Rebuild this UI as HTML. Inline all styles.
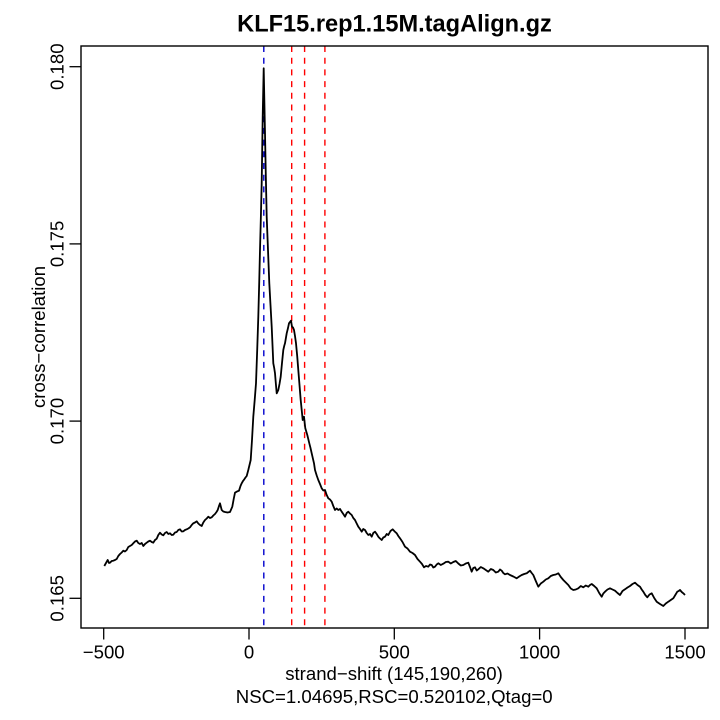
<!DOCTYPE html>
<html>
<head>
<meta charset="utf-8">
<style>
  html, body { margin: 0; padding: 0; background: #ffffff; }
  svg { display: block; }
  text { font-family: "Liberation Sans", Arial, sans-serif; fill: #000; }
</style>
</head>
<body>
<svg width="720" height="720" viewBox="0 0 720 720" xmlns="http://www.w3.org/2000/svg">
  <rect x="0" y="0" width="720" height="720" fill="#ffffff"/>

  <!-- Title -->
  <text x="394.5" y="31.7" font-size="23.6" font-weight="bold" text-anchor="middle">KLF15.rep1.15M.tagAlign.gz</text>

  <!-- vertical dashed lines -->
  <g stroke-width="1.4" stroke-dasharray="6 5.7" fill="none">
    <line x1="263.8" y1="46" x2="263.8" y2="628" stroke="#0000cc"/>
    <line x1="291.7" y1="46" x2="291.7" y2="628" stroke="#ff0000"/>
    <line x1="304.6" y1="46" x2="304.6" y2="628" stroke="#ff0000"/>
    <line x1="324.9" y1="46" x2="324.9" y2="628" stroke="#ff0000"/>
  </g>

  <!-- data curve -->
  <polyline fill="none" stroke="#000" stroke-width="1.8" stroke-linejoin="round" points="
    104.3,566 106,563 107.7,560 109,563 110,562.7 111.7,561 113.3,560.7 115,560 116.7,559 118.3,556 120,554 121.7,552.5 123.3,550.7 125,551.5
    126.7,550 128.3,547 130,546 131.7,545 133.3,543.3 135,541.5 136.7,540.7 138.3,543 140,544 141.7,543 143.3,546 145,544
    146.7,542.7 148.3,541.5 150,540.7 151.7,542 153.3,542.7 155,540 156.7,538.7 158.3,535 160,532.7 161.7,534.5 163.3,535.3 165,533
    166.7,532 168.3,534 170,533.3 171.7,535 173.3,534.7 175,532.5 176.7,532 178.3,530 180,529.3 181.7,531.5 183.3,531.3 185,530
    186.7,529.3 188.3,528.5 190,527.3 191.7,525 193.3,523.3 195,522.5 196.7,521.3 198.3,523.5 200,525 201.7,526 203.3,522.5
    205,520 206.7,518.5 208.3,516.7 210,518 211.7,517.3 213.3,515.5 215,514 216.5,512 217.7,510 219,506 220,503.3 221.7,510
    223.3,511.5 225,512 227.5,512.5 230,512 232.3,506.7 233.7,499 235,492.7 237,491.5 239,490.7 240.5,486 241.7,483.3 243,481
    244.3,479.3 245.5,477.5 246.7,476 248.3,470
    250.7,460 252,440 253.3,416.7 254.7,400 256,383.3 257.2,350 258.3,316.7 259.2,283 260,250 260.9,216 261.7,183 262.7,116.7 263.7,68.3
    265,133.3 265.8,175 266.7,216.7 268,250 269.3,283.3 270.5,305 271.7,326.7 272.5,345 273.3,363.3 274.2,368 275,373.3 275.8,383 276.7,393.3
    278.3,390 279.5,384 280.7,376.7 282,363 283.3,350 284.2,346 285,343.3 286.7,333.3 288,328 289,323.3 291,320.7 292,326.7 293,327.5 294,330
    295,336 296,343.3 297.2,356 298.3,370 299.5,385 300.7,400 301.7,410 302.7,420 304,416.7 305.3,428.3 307.3,435
    309.3,443.3 310.5,448 311.7,453.3 314,463.3 315,470 316.7,475.5 318.3,480 320,484 321.7,488.3 323.3,490.5 325,490 326.7,495
    328.3,498.3 330,499.5 331.7,501.7 333.3,506 335,510 336.7,508.5 338.3,510 340,509 341.7,511.7 343.3,514 345,516.7 346.7,513
    348.3,511.7 350,513.5 351.7,515 353.3,518 355,520 356.7,523.5 358.3,526.7 360,529 361.7,531.7 363.3,529 365,530 366.7,533
    368.3,535 370,534 371.7,536.7 373.3,533 375,531.7 376.7,534 378.3,536.7 380,538.5 381.7,540 383.3,537.5 385,536.7 386.7,534
    388.3,535 390.5,531 392.7,529.3 394.7,531.5 396.7,533.3 398.3,536 400,538.3 402.5,542 405,546.7 407.5,548.5 410,551.7 412.5,553
    415,555 417.5,559 420,561.7 422,564 424,567.3 426,566 428.3,566.7 430,564.5 431.7,565 433.3,567.5 435,566.7 436.7,564.5
    438.3,563.3 440.8,565 443.3,563.7 445.8,562 448.3,561.7 450.8,563.5 453.3,562 455.8,561 458.3,563.5 460.8,565.5 463.3,565
    465.8,563.5 468.3,562.7 470,567 471.7,571.7 473.3,568 475,567.3 476.7,570.5 478.3,569.3 480.8,567 483.3,568.3 485.8,570
    488.3,571.7 490.8,569 493.3,570 495.8,572.5 498.3,571.7 500,569.5 501.7,570.7 503.3,573 505,574.3 507.5,573.5 510,575
    513.3,576.5 516.7,578.3 519.2,576.5 521.7,575 524.2,574 526.7,573.3 528.3,572 530,570.7 531.7,573 533.3,575 535.8,581 538.3,586.7
    540.8,583.5 543.3,581.7 545.8,579.5 548.3,578.3 550.8,576 553.3,575 555.8,574.5 558.3,573.3 560.8,577 563.3,580 565.8,582.5
    568.3,585 570.8,588.5 573.3,590 575.8,589.5 578.3,588.3 580.8,586 583.3,587.3 585.8,585.5 588.3,586.7 590,585 591.7,584
    594.2,586 596.7,588.3 599.2,593 601.7,596.7 603.3,593.5 605,591.7 607.5,589.5 610,588.3 612.5,589.5 615,590.7 617.5,593
    620,595 622.5,591 625,589.3 627.5,587.5 630,586 632.5,584 635,582.7 637.5,585 640,586.7 641.7,589.5 643.3,591.7 645.3,595
    647.3,597.3 649.5,594.5 651.7,593.3 654.2,598 656.7,601.7 660,604 663.3,606 665.8,603.5 668.3,601.7 670.8,600 673.3,598.3
    675.3,595 677.3,591.7 678.7,591 680,590 681.7,592 683.3,593.3 685,595"/>

  <!-- plot box -->
  <rect x="81" y="46" width="627" height="582" fill="none" stroke="#000" stroke-width="1.4"/>

  <!-- x axis ticks -->
  <g stroke="#000" stroke-width="1.3">
    <line x1="103.7" y1="628" x2="103.7" y2="639.5"/>
    <line x1="249" y1="628" x2="249" y2="639.5"/>
    <line x1="394.3" y1="628" x2="394.3" y2="639.5"/>
    <line x1="539.6" y1="628" x2="539.6" y2="639.5"/>
    <line x1="685" y1="628" x2="685" y2="639.5"/>
  </g>
  <g font-size="18.6" text-anchor="middle">
    <text x="103.7" y="658.3">−500</text>
    <text x="249" y="658.3">0</text>
    <text x="394.3" y="658.3">500</text>
    <text x="539.6" y="658.3">1000</text>
    <text x="685" y="658.3">1500</text>
  </g>

  <!-- y axis ticks -->
  <g stroke="#000" stroke-width="1.3">
    <line x1="81" y1="66.7" x2="69.5" y2="66.7"/>
    <line x1="81" y1="243.9" x2="69.5" y2="243.9"/>
    <line x1="81" y1="421.1" x2="69.5" y2="421.1"/>
    <line x1="81" y1="598.3" x2="69.5" y2="598.3"/>
  </g>
  <g font-size="18.6" text-anchor="middle">
    <text transform="translate(63.3,66.7) rotate(-90)">0.180</text>
    <text transform="translate(63.3,243.9) rotate(-90)">0.175</text>
    <text transform="translate(63.3,421.1) rotate(-90)">0.170</text>
    <text transform="translate(63.3,598.3) rotate(-90)">0.165</text>
  </g>

  <!-- axis labels -->
  <text transform="translate(45,337) rotate(-90)" font-size="18.6" text-anchor="middle">cross−correlation</text>
  <text x="394" y="680" font-size="18.6" text-anchor="middle">strand−shift (145,190,260)</text>
  <text x="394.2" y="703" font-size="18.6" text-anchor="middle">NSC=1.04695,RSC=0.520102,Qtag=0</text>
</svg>
</body>
</html>
